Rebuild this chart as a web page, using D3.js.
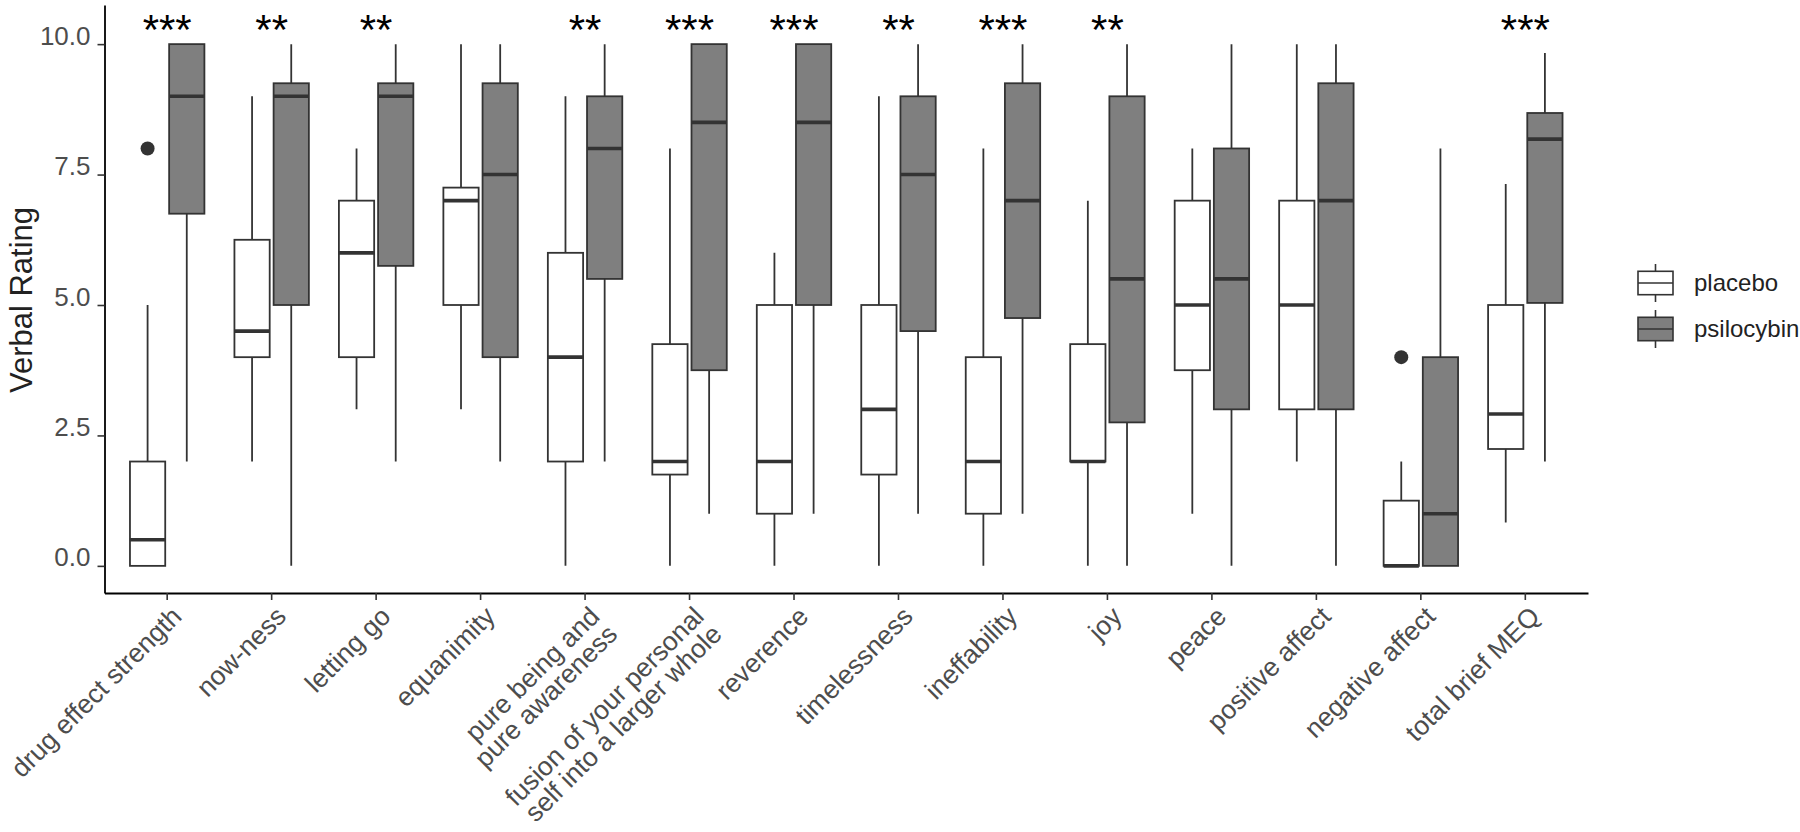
<!DOCTYPE html>
<html><head><meta charset="utf-8">
<script src="https://cdn.jsdelivr.net/npm/d3@7"></script>
<style>
body{margin:0;background:#fff}
svg{display:block}
text{font-family:"Liberation Sans",Arial,Helvetica,sans-serif}
</style>
</head><body><svg id="chart" width="1800" height="832"></svg>
<script>
const categories = ["drug effect strength","now-ness","letting go","equanimity","pure being and\npure awareness","fusion of your personal\nself into a larger whole","reverence","timelessness","ineffability","joy","peace","positive affect","negative affect","total brief MEQ"];
const groups = ["placebo","psilocybin"];
const placeboLow      = [0, 2, 3, 3, 0, 0, 0, 0, 0, 0, 1, 2, 0, 0.83];
const placeboQ1       = [0, 4, 4, 5, 2, 1.75, 1, 1.75, 1, 2, 3.75, 3, 0, 2.24];
const placeboMedian   = [0.5, 4.5, 6, 7, 4, 2, 2, 3, 2, 2, 5, 5, 0, 2.91];
const placeboQ3       = [2, 6.25, 7, 7.25, 6, 4.25, 5, 5, 4, 4.25, 7, 7, 1.25, 5];
const placeboHigh     = [5, 9, 8, 10, 9, 8, 6, 9, 8, 7, 8, 10, 2, 7.32];
const placeboOutliers = [[8],[],[],[],[],[],[],[],[],[],[],[],[4],[]];
const psilocybinLow      = [2, 0, 2, 2, 2, 1, 1, 1, 1, 0, 0, 0, 0, 2];
const psilocybinQ1       = [6.75, 5, 5.75, 4, 5.5, 3.75, 5, 4.5, 4.75, 2.75, 3, 3, 0, 5.04];
const psilocybinMedian   = [9, 9, 9, 7.5, 8, 8.5, 8.5, 7.5, 7, 5.5, 5.5, 7, 1, 8.18];
const psilocybinQ3       = [10, 9.25, 9.25, 9.25, 9, 10, 10, 9, 9.25, 9, 8, 9.25, 4, 8.68];
const psilocybinHigh     = [10, 10, 10, 10, 10, 10, 10, 10, 10, 10, 10, 10, 8, 9.83];
const psilocybinOutliers = [[],[],[],[],[],[],[],[],[],[],[],[],[],[]];
const significance = ["***","**","**","","**","***","***","**","***","**","","","","***"];
const yTicks = [0, 2.5, 5, 7.5, 10];
const yTitle = "Verbal Rating";

const stats = {
  placebo: {low: placeboLow, q1: placeboQ1, med: placeboMedian, q3: placeboQ3, high: placeboHigh, out: placeboOutliers},
  psilocybin: {low: psilocybinLow, q1: psilocybinQ1, med: psilocybinMedian, q3: psilocybinQ3, high: psilocybinHigh, out: psilocybinOutliers}
};
const fills = {placebo: "#ffffff", psilocybin: "#7f7f7f"};
const lineCol = "#333333";

const svg = d3.select("#chart");
const pLeft = 104.5, pRight = 1588, pTop = 5, pBottom = 593;

const x = d3.scaleBand().domain(categories).range([pLeft, pRight]).paddingInner(0).paddingOuter(0.1);
const bw = x.bandwidth();
const xc = c => x(c) + bw / 2;
const dodge = d3.scaleBand().domain(groups).range([-0.375 * bw, 0.375 * bw]).paddingInner(0.1).paddingOuter(0.05);
const y = d3.scaleLinear().domain([-0.52, 10.75]).range([pBottom, pTop]);

// boxes
const g = svg.append("g");
categories.forEach((c, i) => {
  groups.forEach(gr => {
    const s = stats[gr];
    const bx = xc(c) + dodge(gr);
    const w = dodge.bandwidth();
    const cx = bx + w / 2;
    g.append("line").attr("x1", cx).attr("x2", cx).attr("y1", y(s.low[i])).attr("y2", y(s.high[i]))
      .attr("stroke", lineCol).attr("stroke-width", 1.8);
    g.append("rect").attr("x", bx).attr("width", w).attr("y", y(s.q3[i])).attr("height", y(s.q1[i]) - y(s.q3[i]))
      .attr("fill", fills[gr]).attr("stroke", lineCol).attr("stroke-width", 1.8);
    g.append("line").attr("x1", bx).attr("x2", bx + w).attr("y1", y(s.med[i])).attr("y2", y(s.med[i]))
      .attr("stroke", lineCol).attr("stroke-width", 3.6);
    s.out[i].forEach(v => {
      g.append("circle").attr("cx", cx).attr("cy", y(v)).attr("r", 7).attr("fill", lineCol);
    });
  });
});

// significance stars
svg.append("g").selectAll("text").data(categories).join("text")
  .attr("x", c => xc(c)).attr("y", y(10))
  .attr("text-anchor", "middle").attr("font-size", 42).attr("fill", "#000")
  .text((c, i) => significance[i]);

// y axis
const yAxis = svg.append("g").attr("transform", `translate(${pLeft},0)`)
  .call(d3.axisLeft(y).tickValues(yTicks).tickFormat(d3.format(".1f")).tickSize(7).tickSizeOuter(0).tickPadding(7));
yAxis.select(".domain").attr("stroke", "#000").attr("stroke-width", 1.8);
yAxis.selectAll(".tick line").attr("stroke", lineCol).attr("stroke-width", 1.6);
yAxis.selectAll(".tick text").attr("font-size", 26).attr("fill", "#4d4d4d").attr("dy", "0.0em")
  .style("font-family", '"Liberation Sans",Arial,sans-serif');

// x axis
const xAxis = svg.append("g").attr("transform", `translate(0,${pBottom})`)
  .call(d3.axisBottom(x).tickSize(7).tickSizeOuter(0).tickFormat(""));
xAxis.select(".domain").attr("stroke", "#000").attr("stroke-width", 1.8);
xAxis.selectAll(".tick line").attr("stroke", lineCol).attr("stroke-width", 1.6);
xAxis.selectAll(".tick text").remove();

const xl = svg.append("g");
categories.forEach(c => {
  const t = xl.append("text")
    .attr("transform", `translate(${xc(c) + 1},${pBottom + 10}) rotate(-45)`)
    .attr("text-anchor", "end").attr("font-size", 26.5).attr("fill", "#4d4d4d");
  c.split("\n").forEach((line, k) => {
    t.append("tspan").attr("x", 0).attr("dy", k === 0 ? "0.8em" : "0.95em").text(line);
  });
});

// y title
svg.append("text").attr("transform", "translate(32,300) rotate(-90)")
  .attr("text-anchor", "middle").attr("font-size", 31).attr("fill", "#222").text(yTitle);

// legend
const legY = [283, 329];
const lg = svg.append("g");
groups.forEach((gr, k) => {
  const cy = legY[k];
  lg.append("line").attr("x1", 1655.5).attr("x2", 1655.5).attr("y1", cy - 19).attr("y2", cy + 19)
    .attr("stroke", lineCol).attr("stroke-width", 1.6);
  lg.append("rect").attr("x", 1638).attr("y", cy - 11.7).attr("width", 35).attr("height", 23.4)
    .attr("fill", fills[gr]).attr("stroke", lineCol).attr("stroke-width", 1.6);
  lg.append("line").attr("x1", 1638).attr("x2", 1673).attr("y1", cy).attr("y2", cy)
    .attr("stroke", lineCol).attr("stroke-width", 1.6);
  lg.append("text").attr("x", 1694).attr("y", cy).attr("dy", "0.35em")
    .attr("font-size", 24).attr("fill", "#222").text(gr);
});
</script></body></html>
